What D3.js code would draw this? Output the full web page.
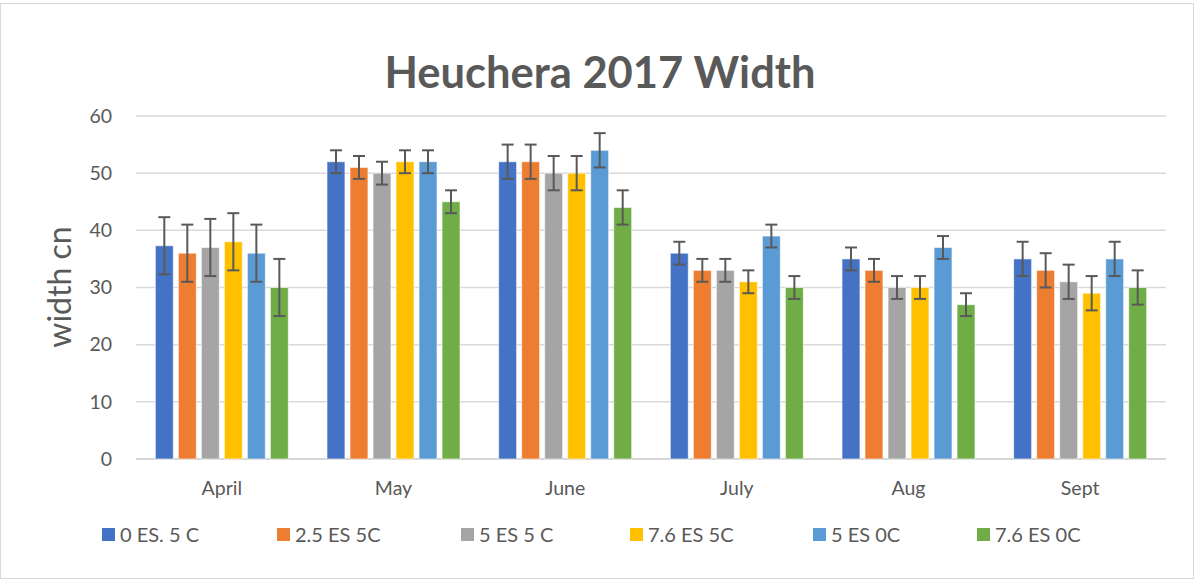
<!DOCTYPE html>
<html>
<head>
<meta charset="utf-8">
<script src="https://cdn.jsdelivr.net/npm/d3@7"></script>
<style>
  body { margin: 0; background: #fff; }
  text { font-family: Lato, "Open Sans", sans-serif; fill: #595959; }
</style>
</head>
<body>
<svg id="chart" width="1196" height="581"></svg>
<script>
// chart data
const months = ["April", "May", "June", "July", "Aug", "Sept"];
const seriesNames = ["0 ES. 5 C", "2.5 ES 5C", "5 ES 5 C", "7.6 ES 5C", "5 ES 0C", "7.6 ES 0C"];
const seriesColors = ["#4472C4", "#ED7D31", "#A5A5A5", "#FFC000", "#5B9BD5", "#70AD47"];
// one row per series, one value per month
const widths = [
  [37.3, 52, 52, 36, 35, 35],
  [36, 51, 52, 33, 33, 33],
  [37, 50, 50, 33, 30, 31],
  [38, 52, 50, 31, 30, 29],
  [36, 52, 54, 39, 37, 35],
  [30, 45, 44, 30, 27, 30]
];
// error bar half-lengths per month (same for every series in a month)
const errors = [5, 2, 3, 2, 2, 3];
const yTicks = [0, 10, 20, 30, 40, 50, 60];

// legend entry x positions (layout, as Excel spaced them)
const legendX = [102, 277, 461, 630, 813, 977];

let svg = d3.select("#chart");

// outer border of the chart
svg.append("rect")
  .attr("x", 0.5).attr("y", 3.5)
  .attr("width", 1193).attr("height", 575)
  .attr("fill", "#fff")
  .attr("stroke", "#d9d9d9");

let plotLeft = 136, plotRight = 1166, plotTop = 116, plotBottom = 459;

let xScale = d3.scaleBand()
  .domain(months)
  .range([plotLeft, plotRight]);
let inner = (xScale.bandwidth() - 133) / 2;
let xSub = d3.scaleBand()
  .domain(seriesNames)
  .range([inner, xScale.bandwidth() - inner])
  .paddingInner(0.22);
let yScale = d3.scaleLinear()
  .domain([0, 60])
  .range([plotBottom, plotTop]);

// gridlines
svg.append("g")
  .selectAll("line")
  .data(yTicks)
  .enter().append("line")
  .attr("x1", plotLeft).attr("x2", plotRight)
  .attr("y1", d => yScale(d)).attr("y2", d => yScale(d))
  .attr("stroke", d => d == 0 ? "#c9c9c9" : "#d9d9d9")
  .attr("stroke-width", 1.5);

// y axis labels
let yAxis = d3.axisLeft(yScale).tickValues(yTicks).tickSize(0).tickPadding(0);
let yAxisG = svg.append("g")
  .attr("transform", "translate(112,0)")
  .call(yAxis);
yAxisG.select(".domain").remove();
yAxisG.selectAll("text")
  .style("font-size", "19.5px")
  .attr("fill", "#595959");

// x axis labels
let xAxis = d3.axisBottom(xScale).tickSize(0).tickPadding(0);
let xAxisG = svg.append("g")
  .attr("transform", "translate(0,481)")
  .call(xAxis);
xAxisG.select(".domain").remove();
xAxisG.selectAll("text")
  .style("font-size", "19.5px")
  .attr("fill", "#595959");

// bars
let groups = svg.append("g")
  .selectAll("g")
  .data(seriesNames)
  .enter().append("g")
  .attr("fill", (d, i) => seriesColors[i]);

groups.selectAll("rect")
  .data((s, si) => widths[si].map((v, mi) => ({ series: s, month: months[mi], value: v })))
  .enter().append("rect")
  .attr("x", d => xScale(d.month) + xSub(d.series))
  .attr("y", d => yScale(d.value))
  .attr("width", xSub.bandwidth())
  .attr("height", d => plotBottom - yScale(d.value))
  .attr("stroke", "#fff")
  .attr("stroke-opacity", 0.6)
  .attr("stroke-width", 1);

// error bars
let errG = svg.append("g")
  .attr("stroke", "#595959")
  .attr("stroke-width", 2);
let errData = [];
seriesNames.forEach(function (s, si) {
  months.forEach(function (m, mi) {
    errData.push({ series: s, month: m, value: widths[si][mi], err: errors[mi] });
  });
});
let cx = d => xScale(d.month) + xSub(d.series) + xSub.bandwidth() / 2;
errG.selectAll(".stem")
  .data(errData)
  .enter().append("line")
  .attr("x1", cx).attr("x2", cx)
  .attr("y1", d => yScale(d.value + d.err))
  .attr("y2", d => yScale(d.value - d.err));
errG.selectAll(".capTop")
  .data(errData)
  .enter().append("line")
  .attr("x1", d => cx(d) - 6).attr("x2", d => cx(d) + 6)
  .attr("y1", d => yScale(d.value + d.err))
  .attr("y2", d => yScale(d.value + d.err));
errG.selectAll(".capBottom")
  .data(errData)
  .enter().append("line")
  .attr("x1", d => cx(d) - 6).attr("x2", d => cx(d) + 6)
  .attr("y1", d => yScale(d.value - d.err))
  .attr("y2", d => yScale(d.value - d.err));

// title
svg.append("text")
  .attr("x", 600).attr("y", 88)
  .attr("text-anchor", "middle")
  .style("font-size", "43.5px")
  .style("font-weight", "bold")
  .text("Heuchera 2017 Width");

// y axis title
svg.append("text")
  .attr("transform", "translate(71,287) rotate(-90)")
  .attr("text-anchor", "middle")
  .style("font-size", "32px")
  .text("width cn");

// legend
let legend = svg.append("g")
  .selectAll("g")
  .data(seriesNames)
  .enter().append("g")
  .attr("transform", (d, i) => "translate(" + legendX[i] + ",528)");
legend.append("rect")
  .attr("width", 13).attr("height", 13)
  .attr("fill", (d, i) => seriesColors[i]);
legend.append("text")
  .attr("x", 18).attr("y", 14)
  .style("font-size", "20px")
  .text(d => d);
</script>
</body>
</html>
